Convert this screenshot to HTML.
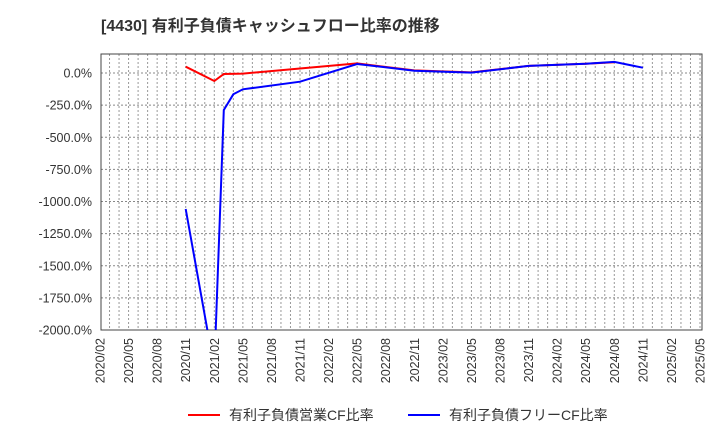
<!DOCTYPE html>
<html><head><meta charset="utf-8"><style>
body{margin:0;background:#fff;font-family:"Liberation Sans","Noto Sans CJK JP",sans-serif;}
</style></head><body>
<svg width="720" height="440" xmlns="http://www.w3.org/2000/svg" font-family="Liberation Sans, Noto Sans CJK JP, sans-serif">
<text x="101" y="31" font-size="16" font-weight="bold" fill="#333">[4430]  有利子負債キャッシュフロー比率の推移</text>
<g id="grid"></g>
<g id="axes"></g>
<g id="series"></g>
<g>
<line x1="188" y1="415" x2="220" y2="415" stroke="#f00" stroke-width="2"/>
<text x="229" y="420" font-size="14" fill="#333">有利子負債営業CF比率</text>
<line x1="408" y1="415" x2="440" y2="415" stroke="#00f" stroke-width="2"/>
<text x="449" y="420" font-size="14" fill="#333">有利子負債フリーCF比率</text>
</g>
</svg>
<script>
const xTickLabels=["2020/02","2020/05","2020/08","2020/11","2021/02","2021/05","2021/08","2021/11","2022/02","2022/05","2022/08","2022/11","2023/02","2023/05","2023/08","2023/11","2024/02","2024/05","2024/08","2024/11","2025/02","2025/05"];
const yTicks=[0,-250,-500,-750,-1000,-1250,-1500,-1750,-2000];
const redDates=["2020/11","2021/02","2021/03","2021/05","2021/11","2022/05","2022/11","2023/05","2023/11","2024/05","2024/08"];
const redValues=[49,-62,-8,-5,35,75,20,5,55,72,84];
const blueDates=["2020/11","2021/02","2021/03","2021/04","2021/05","2021/11","2022/05","2022/11","2023/05","2023/11","2024/05","2024/08","2024/11"];
const blueValues=[-1058,-2300,-288,-166,-127,-68,70,18,3,55,72,86,41];
const NS="http://www.w3.org/2000/svg";
const L=101,R=702,T=54,B=330;
function mi(d){const p=d.split("/");return (+p[0]-2020)*12+(+p[1]-2);}
function X(d){return 100+mi(d)*600/63;}
function Y(v){return 73-v*0.1285;}
function mk(t,a,p){const e=document.createElementNS(NS,t);for(const k in a)e.setAttribute(k,a[k]);p.appendChild(e);return e;}
const grid=document.getElementById("grid"),axes=document.getElementById("axes"),ser=document.getElementById("series");
for(let m=0;m<=63;m++){const x=100+m*600/63;if(x<=L+0.5||x>=R-0.5)continue;
const g=mk("line",{x1:x,x2:x,y1:T,y2:B,stroke:"#999","stroke-dasharray":"2,2","stroke-width":1},grid);

}
yTicks.forEach(v=>{const y=Y(v);
if(y<B-0.5){const g=mk("line",{x1:L,x2:R,y1:y,y2:y,stroke:"#888","stroke-dasharray":"2,2","stroke-width":1},grid);

}
const t=mk("text",{x:92,y:y+4.5,"font-size":12.5,fill:"#333","text-anchor":"end"},axes);
t.textContent=v.toFixed(1)+"%";

});
xTickLabels.forEach(d=>{const x=X(d);
const t=mk("text",{x:0,y:0,"font-size":12.5,fill:"#333","text-anchor":"end",transform:`translate(${x+4.5},338) rotate(-90)`},axes);
t.textContent=d;

});
const fr=mk("rect",{x:L,y:T,width:R-L,height:B-T,fill:"none",stroke:"#444","stroke-width":1},axes);


const cp=mk("clipPath",{id:"cp"},ser);mk("rect",{x:L,y:T,width:R-L,height:B-T},cp);
function line(dates,vals,col,name){
const pts=dates.map((d,i)=>X(d).toFixed(1)+","+Y(vals[i]).toFixed(1)).join(" ");
const p=mk("polyline",{points:pts,fill:"none",stroke:col,"stroke-width":2,"clip-path":"url(#cp)"},ser);

}
line(redDates,redValues,"#f00","operating-cf-line");
line(blueDates,blueValues,"#00f","free-cf-line");
</script>
</body></html>
